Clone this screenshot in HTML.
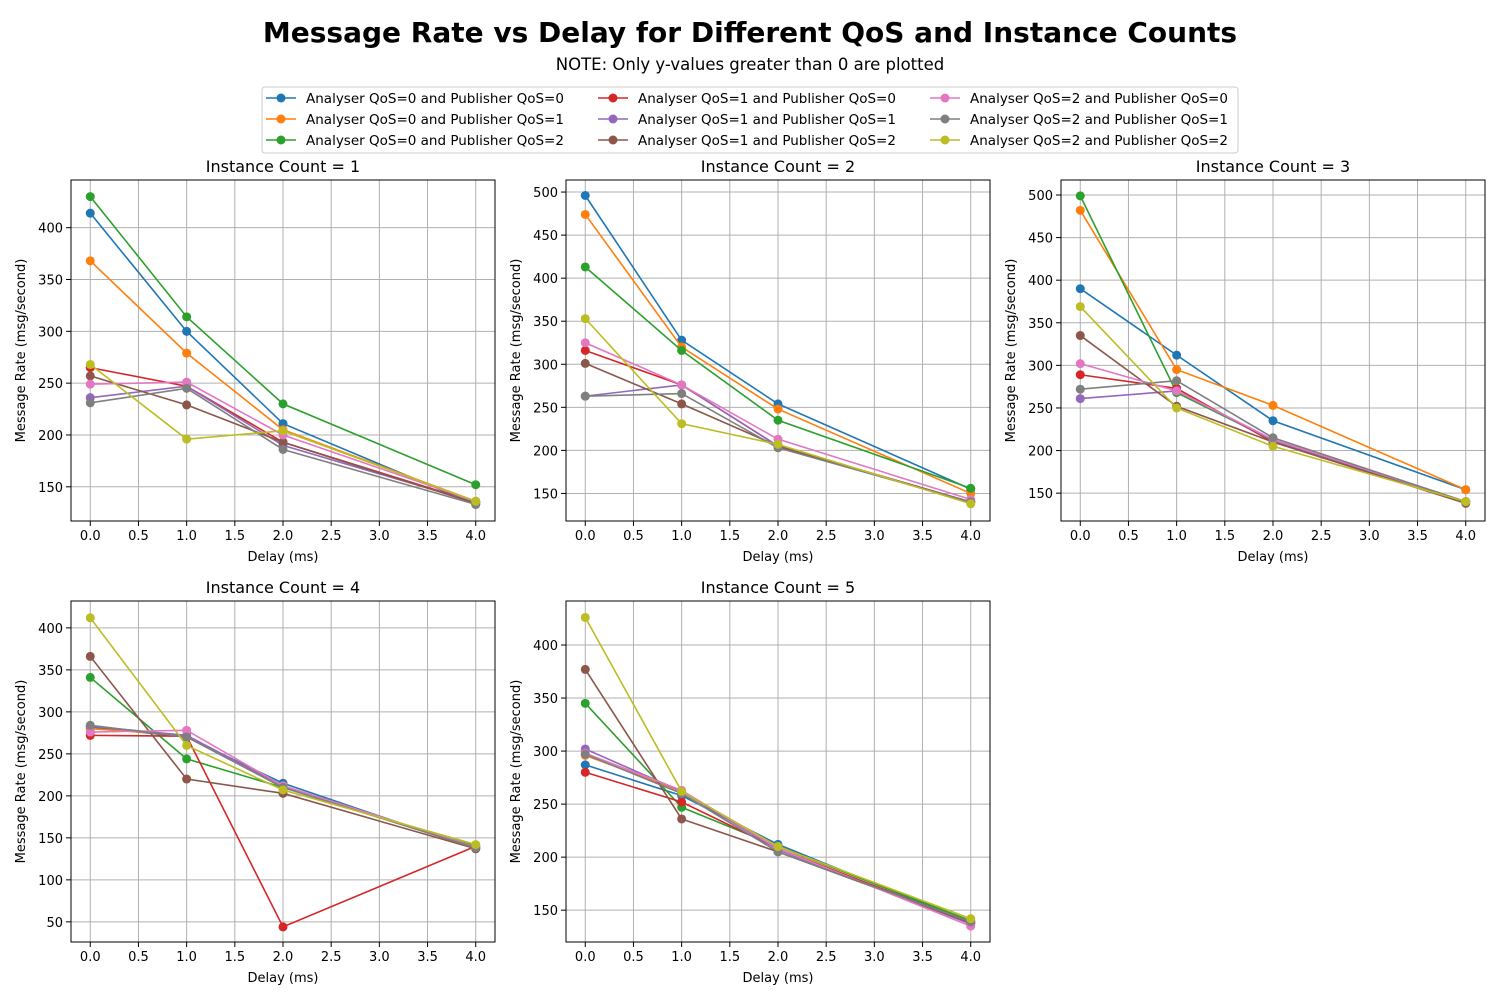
<!DOCTYPE html>
<html><head><meta charset="utf-8"><style>
body{margin:0;background:#fff;}
svg{font-family:"DejaVu Sans","Liberation Sans",sans-serif;}
</style></head><body>
<svg id="fig" width="1500" height="1000" xmlns="http://www.w3.org/2000/svg">
<text x="750" y="42" text-anchor="middle" font-size="28" font-weight="bold">Message Rate vs Delay for Different QoS and Instance Counts</text>
<text x="750" y="70" text-anchor="middle" font-size="16.5">NOTE: Only y-values greater than 0 are plotted</text>
<g id="legend"></g>
<g id="plots"></g>
</svg>
<script>
const delays = [0, 1, 2, 4];
const seriesNames = ["Analyser QoS=0 and Publisher QoS=0","Analyser QoS=0 and Publisher QoS=1","Analyser QoS=0 and Publisher QoS=2","Analyser QoS=1 and Publisher QoS=0","Analyser QoS=1 and Publisher QoS=1","Analyser QoS=1 and Publisher QoS=2","Analyser QoS=2 and Publisher QoS=0","Analyser QoS=2 and Publisher QoS=1","Analyser QoS=2 and Publisher QoS=2"];
const colors = ["#1f77b4","#ff7f0e","#2ca02c","#d62728","#9467bd","#8c564b","#e377c2","#7f7f7f","#bcbd22"];
const instance1 = [[414,300,211,133],[368,279,205,136],[430,314,230,152],[265,247,193,135],[236,247,190,135],[257,229,193,134],[249,251,200,136],[231,245,186,133],[268,196,204,136]];
const instance2 = [[496,328,254,155],[474,320,248,150],[413,316,235,156],[316,276,205,140],[263,276,205,140],[301,254,205,140],[325,276,213,143],[263,266,203,140],[353,231,207,138]];
const instance3 = [[390,312,235,154],[482,295,253,154],[499,268,212,140],[289,273,210,140],[261,270,212,140],[335,252,210,138],[302,270,213,140],[272,282,215,140],[369,250,205,140]];
const instance4 = [[282,270,215,137],[280,272,210,140],[341,244,210,140],[272,271,44,140],[283,272,212,138],[366,220,203,137],[276,278,212,139],[284,270,210,138],[412,260,207,142]];
const instance5 = [[287,258,212,138],[296,262,210,140],[345,247,210,140],[280,252,208,138],[302,262,207,137],[377,236,205,138],[298,263,208,135],[297,260,205,139],[426,262,210,142]];
const xTicks = [0,0.5,1,1.5,2,2.5,3,3.5,4];
const yTicks1 = [150,200,250,300,350,400];
const yTicks2 = [150,200,250,300,350,400,450,500];
const yTicks4 = [50,100,150,200,250,300,350,400];
const yTicks5 = [150,200,250,300,350,400];

const NS="http://www.w3.org/2000/svg";
function mk(tag,attrs,parent){const e=document.createElementNS(NS,tag);for(const k in attrs)e.setAttribute(k,attrs[k]);parent.appendChild(e);return e;}

const panels=[
 {data:instance1,title:"Instance Count = 1",x:71,y:180,ymin:117,ymax:446,ticks:yTicks1},
 {data:instance2,title:"Instance Count = 2",x:566,y:180,ymin:118,ymax:514,ticks:yTicks2},
 {data:instance3,title:"Instance Count = 3",x:1061,y:180,ymin:117.3,ymax:517.6,ticks:yTicks2},
 {data:instance4,title:"Instance Count = 4",x:71,y:601,ymin:26,ymax:432,ticks:yTicks4},
 {data:instance5,title:"Instance Count = 5",x:566,y:601,ymin:120,ymax:441.5,ticks:yTicks5}
];
const W=424,H=341,plots=document.getElementById('plots');
panels.forEach((p,pi)=>{
 const g=mk('g',{},plots);
 
 
 const sx=v=>p.x+(v+0.2)/4.4*W;
 const sy=v=>p.y+H-(v-p.ymin)/(p.ymax-p.ymin)*H;
 xTicks.forEach(t=>{
  const X=sx(t);
  mk('line',{x1:X,x2:X,y1:p.y,y2:p.y+H,stroke:'#b0b0b0','stroke-width':1},g);
  mk('line',{x1:X,x2:X,y1:p.y+H,y2:p.y+H+5,stroke:'#000'},g);
  const tx=mk('text',{x:X,y:p.y+H+19,'text-anchor':'middle','font-size':13},g);tx.textContent=t.toFixed(1);
  
  
 });
 p.ticks.forEach(t=>{
  const Y=sy(t);
  mk('line',{x1:p.x,x2:p.x+W,y1:Y,y2:Y,stroke:'#b0b0b0','stroke-width':1},g);
  mk('line',{x1:p.x-5,x2:p.x,y1:Y,y2:Y,stroke:'#000'},g);
  const tx=mk('text',{x:p.x-8,y:Y+5,'text-anchor':'end','font-size':13},g);tx.textContent=t;
  
  
 });
 p.data.forEach((s,si)=>{
  const pts=s.map((v,i)=>sx(delays[i])+','+sy(v)).join(' ');
  const l=mk('polyline',{points:pts,fill:'none',stroke:colors[si],'stroke-width':1.6},g);
  
  
  s.forEach((v,i)=>{
   const c=mk('circle',{cx:sx(delays[i]),cy:sy(v),r:4.5,fill:colors[si]},g);
   
   
  });
 });
 mk('rect',{x:p.x,y:p.y,width:W,height:H,fill:'none',stroke:'#000','stroke-width':1},g);
 const t=mk('text',{x:p.x+W/2,y:p.y-8,'text-anchor':'middle','font-size':16},g);t.textContent=p.title;
 
 
 const xl=mk('text',{x:p.x+W/2,y:p.y+H+40,'text-anchor':'middle','font-size':13},g);xl.textContent="Delay (ms)";
 
 
 const yl=mk('text',{x:0,y:0,'text-anchor':'middle','font-size':13,transform:`translate(${p.x-46},${p.y+H/2}) rotate(-90)`},g);yl.textContent="Message Rate (msg/second)";
 
 
});
const lg=document.getElementById('legend');
mk('rect',{x:262,y:87,width:976,height:66,rx:3,fill:'#fff',stroke:'#ccc'},lg);
seriesNames.forEach((n,i)=>{
 const col=Math.floor(i/3),row=i%3;
 const x=266+col*332,y=98+row*21;
 const e=mk('g',{},lg);
 
 
 mk('line',{x1:x,x2:x+30,y1:y,y2:y,stroke:colors[i],'stroke-width':1.6},e);
 mk('circle',{cx:x+15,cy:y,r:4.5,fill:colors[i]},e);
 const t=mk('text',{x:x+40,y:y+5,'font-size':13.5},e);t.textContent=n;
});
</script>
</body></html>
